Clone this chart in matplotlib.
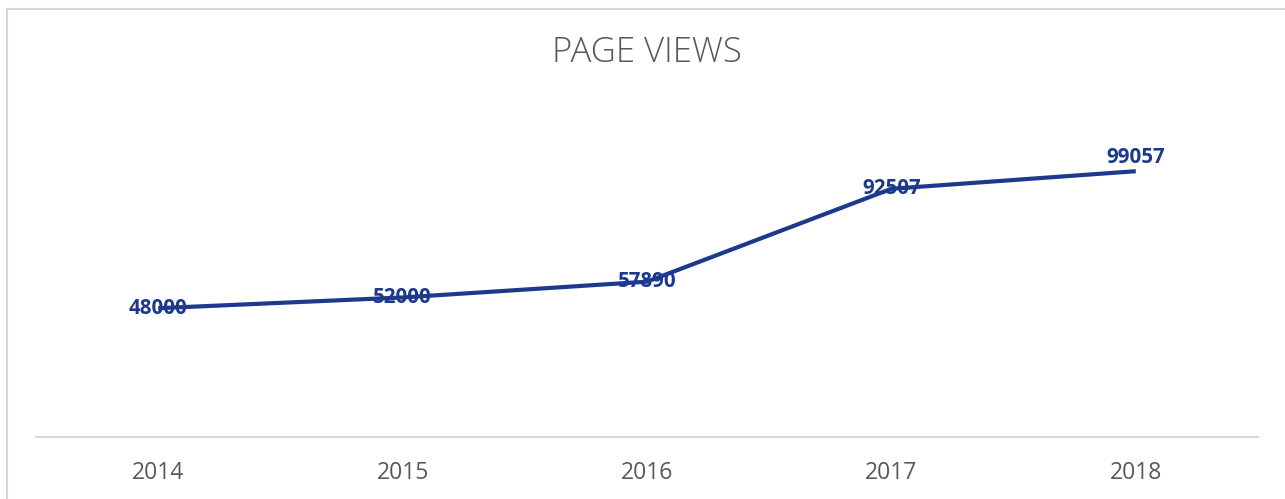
#!/usr/bin/env python3
"""
Page views per year, line chart with value labels.
"""

import matplotlib
matplotlib.use('Agg')
import matplotlib.pyplot as plt
from matplotlib.patches import Rectangle

# Data
years = ['2014', '2015', '2016', '2017', '2018']
views = [48000, 52000, 57890, 92507, 99057]

LINE_COLOR = '#1c398c'
TEXT_GRAY = '#595959'
BORDER_GRAY = '#d9d9d9'

W, H = 1285, 499


def main():
	fig = plt.figure(figsize=(W / 100, H / 100), dpi=100)
	fig.patch.set_facecolor('white')

	# chart frame (only top and left edge visible in picture)
	fig.patches.append(Rectangle((7 / W, -0.2), 1.5, 0.2 + (H - 9) / H,
		transform=fig.transFigure, fill=False, edgecolor=BORDER_GRAY, linewidth=1.5))

	left, right = 36 / W, 1258 / W
	bottom, top = (H - 437) / H, (H - 115) / H
	ax = fig.add_axes([left, bottom, right - left, top - bottom])

	x = list(range(len(years)))
	ax.plot(x, views, color=LINE_COLOR, linewidth=3, solid_capstyle='butt', zorder=2)
	for i, (xi, v) in enumerate(zip(x, views)):
		# last label sits above the line end in the original
		dy = 10 if i == len(views) - 1 else 0
		ax.annotate(str(v), (xi, v), xytext=(0, dy), textcoords='offset points',
			ha='center', va='center', color=LINE_COLOR,
			fontsize=14.8, fontweight='bold', family='Open Sans', zorder=3)

	ax.set_xlim(-0.5, len(years) - 0.5)
	ax.set_ylim(0, 120000)
	ax.set_xticks(x)
	ax.set_xticklabels(years, fontsize=16.5, color=TEXT_GRAY, family='Open Sans')
	ax.set_yticks([])
	ax.tick_params(axis='x', length=0, pad=17)
	for side in ['top', 'left', 'right']:
		ax.spines[side].set_visible(False)
	ax.spines['bottom'].set_color(BORDER_GRAY)
	ax.spines['bottom'].set_linewidth(1.5)

	fig.text(647 / W, 1 - 53 / H, 'PAGE VIEWS', ha='center', va='center',
		fontsize=25, color=TEXT_GRAY, family='Open Sans', fontweight='light')

	fig.savefig('out.png', dpi=100)


if __name__ == '__main__':
	main()
